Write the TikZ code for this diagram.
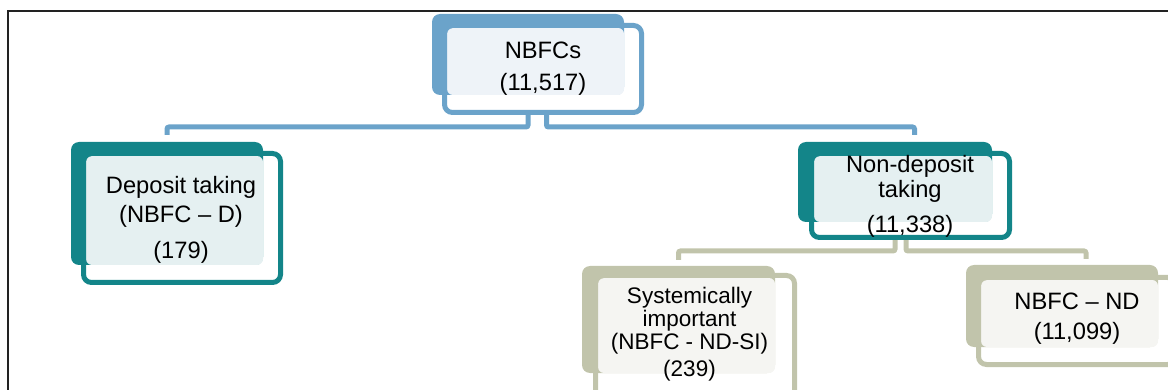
\documentclass[tikz,border=0pt]{standalone}
\usepackage{fontspec}
\setmainfont{Liberation Sans}
\definecolor{cblue}{HTML}{6BA3CA}
\definecolor{lblue}{HTML}{EEF3F8}
\definecolor{cteal}{HTML}{138589}
\definecolor{lteal}{HTML}{E5F0F1}
\definecolor{ckhaki}{HTML}{C1C4AB}
\definecolor{lkhaki}{HTML}{F5F5F2}
\definecolor{cframe}{HTML}{222222}
\pgfdeclarelayer{bg}
\pgfdeclarelayer{mid}
\pgfsetlayers{bg,mid,main}
\begin{document}
\begin{tikzpicture}[x=1pt,y=-1pt,
  backbox/.style={fill=#1, draw=none, rounded corners=8pt, inner sep=0pt, outer sep=0pt},
  framebox/.style={draw=#1, line width=5pt, rounded corners=8pt, inner sep=0pt, outer sep=0pt},
  conn/.style={draw=#1, line width=5pt, rounded corners=2pt},
  lightfill/.style={fill=#1, rounded corners=6pt},
  lbl/.style={align=center, inner sep=0pt, anchor=base, text=black},
]
\useasboundingbox (0,0) rectangle (1168,390);
\clip (0,0) rectangle (1168,390);

% outer frame
\coordinate (fa) at (8,390);
\coordinate (fb) at (8,11);
\coordinate (fc) at (1168,11);
\draw[cframe, line width=1.3pt] (fa) -- (fb) -- (fc);

% ---- NBFCs ----
\node[framebox=cblue, minimum width=197, minimum height=87] (n0f) at (543,69) {};
\begin{pgfonlayer}{bg}
\node[backbox=cblue, minimum width=192, minimum height=81] (n0b) at (528,54.5) {};
\end{pgfonlayer}
\begin{pgfonlayer}{mid}
\fill[lightfill=lblue] ([xshift=2.5,yshift=-2.5]n0f.north west) rectangle (n0b.south east);
\end{pgfonlayer}
\node[lbl, font=\fontsize{23.7}{32}\selectfont] (t0) at (543,91) {NBFCs\\(11,517)};

% ---- Deposit taking ----
\node[framebox=cteal, minimum width=197, minimum height=129] (n1f) at (182,218) {};
\begin{pgfonlayer}{bg}
\node[backbox=cteal, minimum width=192, minimum height=123] (n1b) at (167,203.5) {};
\end{pgfonlayer}
\begin{pgfonlayer}{mid}
\fill[lightfill=lteal] ([xshift=2.5,yshift=-2.5]n1f.north west) rectangle (n1b.south east);
\end{pgfonlayer}
\node[lbl, font=\fontsize{23.7}{30}\selectfont] (t1) at (181,259) {Deposit taking\\(NBFC – D)\\[6pt](179)};

% ---- Non-deposit taking ----
\node[framebox=cteal, minimum width=198, minimum height=84] (n2f) at (910.5,195.5) {};
\begin{pgfonlayer}{bg}
\node[backbox=cteal, minimum width=194, minimum height=80] (n2b) at (895,182) {};
\end{pgfonlayer}
\begin{pgfonlayer}{mid}
\fill[lightfill=lteal] ([xshift=2.5,yshift=-2.5]n2f.north west) rectangle (n2b.south east);
\end{pgfonlayer}
\node[lbl, font=\fontsize{23.7}{25}\selectfont] (t2) at (910,233) {Non-deposit\\taking\\[10pt](11,338)};

% ---- Systemically important ----
\node[framebox=ckhaki, minimum width=199, minimum height=127] (n3f) at (695,339) {};
\begin{pgfonlayer}{bg}
\node[backbox=ckhaki, minimum width=193, minimum height=107] (n3b) at (678.5,319.5) {};
\end{pgfonlayer}
\begin{pgfonlayer}{mid}
\fill[lightfill=lkhaki] ([xshift=2.5,yshift=-2.5]n3f.north west) rectangle (n3b.south east);
\end{pgfonlayer}
\node[lbl, font=\fontsize{22.5}{23}\selectfont] (t3) at (689.5,376) {Systemically\\important\\(NBFC - ND-SI)\\[4pt](239)};

% ---- NBFC - ND ----
\node[framebox=ckhaki, minimum width=197, minimum height=87] (n4f) at (1077,321) {};
\begin{pgfonlayer}{bg}
\node[backbox=ckhaki, minimum width=192, minimum height=82] (n4b) at (1062,306) {};
\end{pgfonlayer}
\begin{pgfonlayer}{mid}
\fill[lightfill=lkhaki] ([xshift=2.5,yshift=-2.5]n4f.north west) rectangle (n4b.south east);
\end{pgfonlayer}
\node[lbl, font=\fontsize{23.7}{30}\selectfont] (t4) at (1077,339) {NBFC – ND\\(11,099)};

% ---- connectors ----
\begin{pgfonlayer}{bg}
\draw[conn=cblue] ([xshift=-15]n0f.south) -- ++(0,14.5) -| ([yshift=7]n1b.north);
\draw[conn=cblue] ([xshift=3.5]n0f.south) -- ++(0,14.5) -| ([xshift=19.5,yshift=7]n2b.north);
\draw[conn=ckhaki] ([xshift=-15.5]n2f.south) -- ++(0,13.5) -| ([yshift=6]n3b.north);
\draw[conn=ckhaki] ([xshift=-4.5]n2f.south) -- ++(0,13.5) -| ([xshift=24,yshift=6]n4b.north);
\end{pgfonlayer}
\end{tikzpicture}
\end{document}
